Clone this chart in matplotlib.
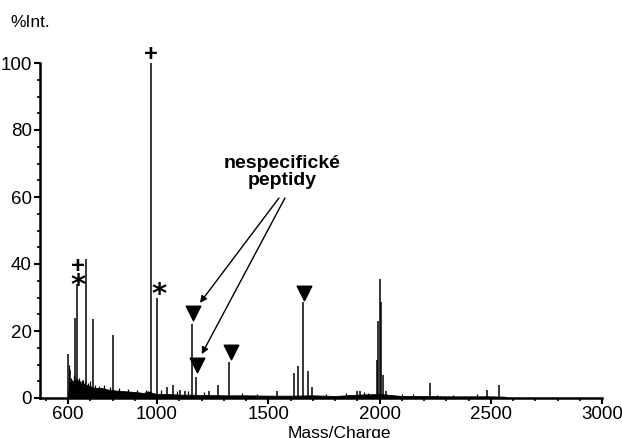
import numpy as np
import matplotlib.pyplot as plt
from matplotlib.ticker import MultipleLocator

plt.rcParams['font.family'] = ['Liberation Sans', 'DejaVu Sans']

# ------------------------------------------------------------
# Peak list (m/z, %Int.)
# ------------------------------------------------------------
peak_mz = [601, 609, 631, 642, 681, 711, 804, 972, 999, 1045, 1070, 1103,
           1126, 1159, 1175, 1234, 1273, 1324, 1538, 1617, 1635, 1657, 1680,
           1698, 1897, 1912, 1987, 1992, 2002, 2007, 2017, 2029, 2227, 2484,
           2537]
peak_int = [13, 8.4, 24, 34, 41.5, 23.5, 18.8, 100, 30, 3.3, 4, 2.5,
            2, 22, 6.3, 2, 4, 10.7, 2, 7.6, 9.5, 28.7, 8,
            3.4, 2, 2, 11.3, 23, 35.5, 28.7, 7, 2, 4.6, 2.4,
            3.9]

# small noise spikes ("grass")
grass_mz = [604, 612, 618, 625, 636, 650, 655, 662, 668, 675, 690, 700, 720,
            740, 760, 790, 830, 870, 910, 950, 1020, 1090, 1140, 1210, 1380,
            1450, 1760, 1850, 1930, 1950, 2100, 2150, 2260, 2330, 2440]
grass_int = [10, 6, 5.5, 7, 6, 6, 5, 5.5, 5.5, 4.8, 4.5, 5, 4,
             3.5, 3.8, 3.2, 3, 2.6, 2.5, 2.3, 2.5, 2, 2, 1.8, 1.5,
             1.3, 1.3, 1.4, 1.8, 1.5, 1.2, 1.3, 1, 1, 1.2]

# baseline envelope
base_mz = [600, 605, 620, 640, 660, 680, 700, 720, 750, 780, 820, 860, 900,
           940, 960, 980, 1000, 1050, 1100, 1150, 1200, 1300, 1400, 1500,
           1600, 1700, 1800, 1900, 2000, 2100, 2200, 2300, 2400, 2500, 2560,
           2580]
base_int = [0, 4.5, 5, 5.5, 4.5, 4, 3.5, 3, 3, 2.5, 2.2, 2, 1.8,
            1.5, 2, 1.5, 1.2, 1.2, 1, 1, 0.9, 0.8, 0.8, 0.7,
            0.7, 0.8, 0.6, 1, 1.2, 0.6, 0.6, 0.5, 0.5, 0.5, 0.4,
            0]

# markers
plus_mz = [972, 643]
plus_int = [102.5, 39.3]
star_mz = [643, 1009]
star_int = [33.4, 30.6]
tri_mz = [1161, 1181, 1331, 1661]
tri_int = [25.5, 9.8, 13.8, 31.4]

# ------------------------------------------------------------
fig = plt.figure(figsize=(6.22, 4.38), dpi=100)
ax = fig.add_axes([40 / 622, 40 / 438, 562 / 622, 335 / 438])

ax.fill_between(base_mz, 0, base_int, color='black', lw=0.6)
ax.vlines(grass_mz, 0, grass_int, color='black', lw=0.9)
ax.vlines(peak_mz, 0, peak_int, color='black', lw=1.1)

for m, i in zip(plus_mz, plus_int):
    ax.text(m, i, '+', ha='center', va='center', fontsize=17,
            fontweight='bold')
for m, i in zip(star_mz, star_int):
    ax.text(m, i, '*', ha='center', va='center', fontsize=21,
            fontweight='bold', family='DejaVu Sans')
ax.scatter(tri_mz, tri_int, marker='v', s=110, color='black', zorder=5)

ax.text(1562, 67.5, 'nespecifické\npeptidy', ha='center', va='center',
        fontsize=14, fontweight='bold', linespacing=1.0)
ax.annotate('', xy=(1193, 28.4), xytext=(1548, 59.7),
            arrowprops=dict(arrowstyle='-|>', color='black', lw=1,
                            mutation_scale=10, shrinkA=0, shrinkB=0))
ax.annotate('', xy=(1201, 13.1), xytext=(1575, 59.7),
            arrowprops=dict(arrowstyle='-|>', color='black', lw=1,
                            mutation_scale=10, shrinkA=0, shrinkB=0))

ax.set_xlim(474, 3000)
ax.set_ylim(0, 100)
ax.set_xticks([600, 1000, 1500, 2000, 2500, 3000])
ax.set_yticks([0, 20, 40, 60, 80, 100])
ax.xaxis.set_minor_locator(MultipleLocator(100))
ax.yaxis.set_minor_locator(MultipleLocator(5))

for s in ['top', 'right']:
    ax.spines[s].set_visible(False)
for s in ['left', 'bottom']:
    ax.spines[s].set_linewidth(1.8)

ax.tick_params(which='major', length=4, width=1.5, labelsize=13.5, pad=2)
ax.tick_params(which='minor', length=2.5, width=1.2)

ax.set_xlabel('Mass/Charge', fontsize=12.5, labelpad=0, va='top')
ax.xaxis.set_label_coords(0.532, -0.085)
fig.text(10 / 622, 1 - 27 / 438, '%Int.', fontsize=12.5, va='baseline')

fig.savefig('out.png', dpi=100)
